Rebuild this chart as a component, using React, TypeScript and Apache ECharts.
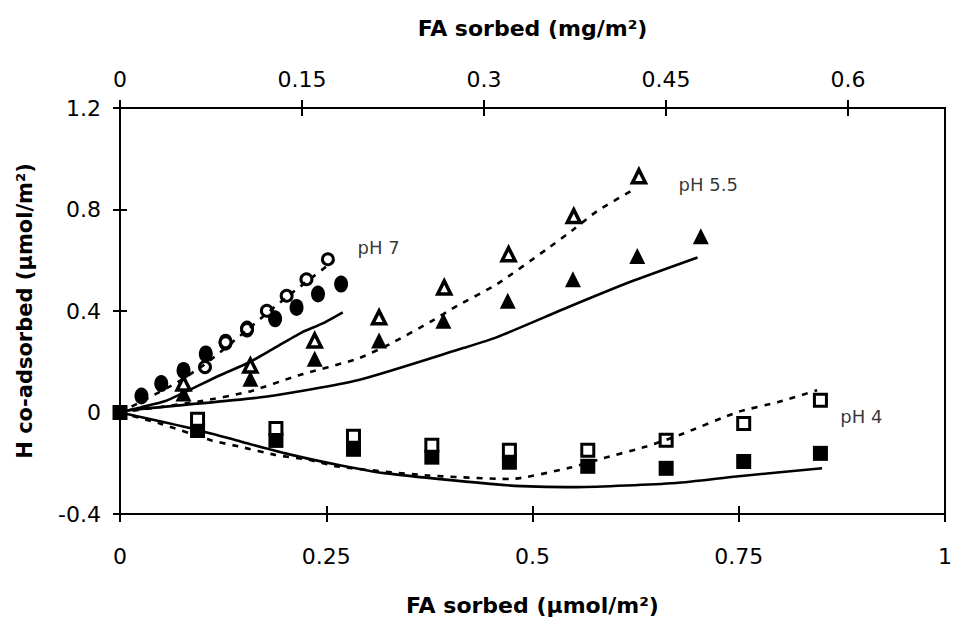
import React, { useEffect, useRef } from "react";
import * as echarts from "echarts";

const F = "DejaVu Sans";

// pH 7 (circles)
const ph7FilledX = [0.026, 0.05, 0.077, 0.104, 0.128, 0.154, 0.188, 0.214, 0.24, 0.268];
const ph7FilledY = [0.065, 0.114, 0.166, 0.231, 0.277, 0.329, 0.369, 0.414, 0.467, 0.506];
const ph7OpenX = [0.103, 0.128, 0.154, 0.178, 0.202, 0.226, 0.252];
const ph7OpenY = [0.179, 0.277, 0.329, 0.401, 0.46, 0.525, 0.604];
const ph7SolidX = [0, 0.025, 0.055, 0.085, 0.12, 0.155, 0.185, 0.22, 0.245, 0.27];
const ph7SolidY = [0, 0.02, 0.045, 0.09, 0.145, 0.195, 0.25, 0.315, 0.35, 0.395];
const ph7DashX = [0, 0.03, 0.07, 0.103, 0.128, 0.154, 0.178, 0.202, 0.226, 0.25];
const ph7DashY = [0, 0.05, 0.12, 0.19, 0.255, 0.325, 0.39, 0.455, 0.515, 0.575];

// pH 5.5 (triangles)
const ph55FilledX = [0.077, 0.158, 0.236, 0.314, 0.392, 0.47, 0.549, 0.627, 0.704];
const ph55FilledY = [0.075, 0.133, 0.212, 0.284, 0.362, 0.44, 0.525, 0.617, 0.695];
const ph55OpenX = [0.077, 0.158, 0.236, 0.314, 0.393, 0.471, 0.55, 0.629];
const ph55OpenY = [0.114, 0.185, 0.284, 0.375, 0.493, 0.624, 0.774, 0.931];
const ph55SolidX = [0, 0.011, 0.075, 0.176, 0.288, 0.417, 0.457, 0.538, 0.618, 0.7];
const ph55SolidY = [0, 0.009, 0.029, 0.062, 0.127, 0.255, 0.297, 0.408, 0.514, 0.611];
const ph55DashX = [0, 0.095, 0.156, 0.216, 0.288, 0.328, 0.376, 0.409, 0.457, 0.517, 0.55, 0.578, 0.626];
const ph55DashY = [0, 0.043, 0.082, 0.146, 0.212, 0.271, 0.357, 0.421, 0.506, 0.643, 0.722, 0.793, 0.885];

// pH 4 (squares)
const ph4FilledX = [0, 0.094, 0.189, 0.283, 0.378, 0.472, 0.567, 0.662, 0.756, 0.849];
const ph4FilledY = [0, -0.071, -0.11, -0.145, -0.176, -0.196, -0.212, -0.22, -0.193, -0.161];
const ph4OpenX = [0.094, 0.189, 0.283, 0.378, 0.472, 0.567, 0.662, 0.756, 0.849];
const ph4OpenY = [-0.027, -0.063, -0.094, -0.129, -0.149, -0.149, -0.109, -0.043, 0.048];
const ph4SolidX = [0, 0.087, 0.147, 0.208, 0.268, 0.32, 0.469, 0.554, 0.674, 0.747, 0.851];
const ph4SolidY = [0, -0.063, -0.115, -0.167, -0.209, -0.239, -0.287, -0.294, -0.278, -0.252, -0.22];
const ph4DashX = [0, 0.05, 0.111, 0.147, 0.188, 0.228, 0.264, 0.373, 0.473, 0.546, 0.586, 0.638, 0.678, 0.75, 0.799, 0.845];
const ph4DashY = [0, -0.045, -0.11, -0.136, -0.167, -0.186, -0.213, -0.248, -0.262, -0.217, -0.18, -0.134, -0.089, 0.003, 0.042, 0.088];

// curve labels
const labelNames = ["pH 7", "pH 5.5", "pH 4"];
const labelX = [0.288, 0.677, 0.873];
const labelY = [0.651, 0.898, -0.016];

// axes
const bottomMin = 0, bottomMax = 1, bottomStep = 0.25;
const topMin = 0, topMax = 0.68, topStep = 0.15;
const yMin = -0.4, yMax = 1.2, yStep = 0.4;

const zip = (xs: number[], ys: number[]) => xs.map((x, i) => [x, ys[i]]);

const lineS = (xs: number[], ys: number[], dashed: boolean) => ({
  type: "line",
  data: zip(xs, ys),
  symbol: "none",
  smooth: 0.2,
  silent: true,
  lineStyle: { color: "#000", width: 2.6, type: dashed ? [6, 7] : "solid" },
});

const scat = (xs: number[], ys: number[], symbol: string, size: any, open: boolean, bw = 3) => ({
  type: "scatter",
  data: zip(xs, ys),
  symbol,
  symbolSize: size,
  silent: true,
  itemStyle: open
    ? { color: "#fff", borderColor: "#000", borderWidth: bw, opacity: 1 }
    : { color: "#000", opacity: 1 },
});

const tickStyle = { color: "#000", width: 2 };

export default function App() {
  const ref = useRef<HTMLDivElement>(null);
  useEffect(() => {
    if (!ref.current) return;
    const chart = echarts.init(ref.current, undefined, { renderer: "svg" });
    const labelStyle = { color: "#000", fontSize: 22, fontFamily: F };
    const nameStyle = { color: "#000", fontSize: 22, fontFamily: F, fontWeight: "bold" as const };
    chart.setOption({
      animation: false,
      backgroundColor: "#fff",
      grid: {
        left: 120, right: 4, top: 108, bottom: 106,
        show: true, borderColor: "#000", borderWidth: 2, backgroundColor: "transparent",
      },
      xAxis: [
        {
          type: "value", position: "bottom", min: bottomMin, max: bottomMax, interval: bottomStep,
          axisLine: { onZero: false, lineStyle: tickStyle },
          axisTick: { inside: false, length: 8, lineStyle: tickStyle },
          axisLabel: { margin: 31, ...labelStyle },
          splitLine: { show: false },
          name: "FA sorbed (µmol/m²)", nameLocation: "middle", nameGap: 80, nameTextStyle: nameStyle,
        },
        {
          type: "value", position: "bottom", min: bottomMin, max: bottomMax, interval: bottomStep,
          axisLine: { show: false, onZero: false },
          axisTick: { inside: true, length: 8, lineStyle: tickStyle },
          axisLabel: { show: false }, splitLine: { show: false },
        },
        {
          type: "value", position: "top", min: topMin, max: topMax, interval: topStep,
          axisLine: { onZero: false, lineStyle: tickStyle },
          axisTick: { inside: false, length: 8, lineStyle: tickStyle },
          axisLabel: { margin: 18, showMaxLabel: false, ...labelStyle },
          splitLine: { show: false },
          name: "FA sorbed (mg/m²)", nameLocation: "middle", nameGap: 69, nameTextStyle: nameStyle,
        },
        {
          type: "value", position: "top", min: topMin, max: topMax, interval: topStep,
          axisLine: { show: false, onZero: false },
          axisTick: { inside: true, length: 8, lineStyle: tickStyle },
          axisLabel: { show: false }, splitLine: { show: false },
        },
      ],
      yAxis: [
        {
          type: "value", position: "left", min: yMin, max: yMax, interval: yStep,
          axisLine: { onZero: false, lineStyle: tickStyle },
          axisTick: { inside: false, length: 7, lineStyle: tickStyle },
          axisLabel: { margin: 19, ...labelStyle },
          splitLine: { show: false },
          name: "H co-adsorbed (µmol/m²)", nameLocation: "middle", nameGap: 85,
          nameTextStyle: { ...nameStyle, fontSize: 21 },
        },
        {
          type: "value", position: "left", min: yMin, max: yMax, interval: yStep,
          axisLine: { show: false, onZero: false },
          axisTick: { inside: true, length: 7, lineStyle: tickStyle },
          axisLabel: { show: false }, splitLine: { show: false },
        },
      ],
      series: [
        lineS(ph7SolidX, ph7SolidY, false),
        lineS(ph7DashX, ph7DashY, true),
        lineS(ph55SolidX, ph55SolidY, false),
        lineS(ph55DashX, ph55DashY, true),
        lineS(ph4SolidX, ph4SolidY, false),
        lineS(ph4DashX, ph4DashY, true),
        scat(ph7FilledX, ph7FilledY, "circle", [14, 17], false),
        scat(ph55FilledX, ph55FilledY, "triangle", 16, false),
        scat(ph4FilledX, ph4FilledY, "rect", 15, false),
        scat(ph7OpenX, ph7OpenY, "circle", 11, true, 3),
        scat(ph55OpenX, ph55OpenY, "triangle", 13, true, 3.5),
        scat(ph4OpenX, ph4OpenY, "rect", 12, true, 3),
        {
          type: "scatter",
          silent: true,
          symbolSize: 0,
          data: labelNames.map((n, i) => ({ name: n, value: [labelX[i], labelY[i]] })),
          label: {
            show: true, position: "right", distance: 0, formatter: "{b}",
            color: "#000", fontSize: 18, fontFamily: F,
          },
        },
      ],
    });
    return () => chart.dispose();
  }, []);
  return <div ref={ref} style={{ position: "fixed", left: 0, top: 0, width: 955, height: 621 }} />;
}
